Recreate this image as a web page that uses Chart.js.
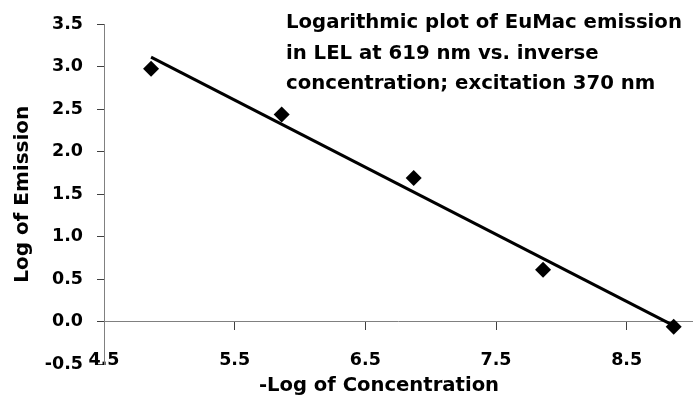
<!DOCTYPE html>
<html>
<head>
<meta charset="utf-8">
<script src="https://cdn.jsdelivr.net/npm/chart.js@4/dist/chart.umd.min.js"></script>
<style>
  html, body { margin: 0; padding: 0; background: #fff; overflow: hidden; }
  #wrap { position: relative; width: 700px; height: 399px; }
</style>
</head>
<body>
<div id="wrap"><canvas id="c" width="700" height="399"></canvas></div>
<script>
// Measured series: -log of concentration vs. log of emission
const negLogConc = [4.86, 5.86, 6.87, 7.86, 8.86];
const logEmission = [2.98, 2.44, 1.69, 0.61, -0.06];

// Axis tick values
const xTicks = [4.5, 5.5, 6.5, 7.5, 8.5];
const yTicks = [-0.5, 0, 0.5, 1, 1.5, 2, 2.5, 3, 3.5];

// Texts
const titleLines = [
  'Logarithmic plot of EuMac emission',
  'in LEL at 619 nm vs. inverse',
  'concentration; excitation 370 nm'
];
const xTitle = '-Log of Concentration';
const yTitle = 'Log of Emission';

const FONT = '"DejaVu Sans", Verdana, sans-serif';

// Least-squares linear trendline through the measured points
function linearFit(xs, ys) {
  const n = xs.length;
  const mx = xs.reduce((a, b) => a + b, 0) / n;
  const my = ys.reduce((a, b) => a + b, 0) / n;
  let sxy = 0, sxx = 0;
  for (let i = 0; i < n; i++) {
    sxy += (xs[i] - mx) * (ys[i] - my);
    sxx += (xs[i] - mx) * (xs[i] - mx);
  }
  const slope = sxy / sxx;
  return x => my + slope * (x - mx);
}
const fit = linearFit(negLogConc, logEmission);
const xLo = Math.min(...negLogConc), xHi = Math.max(...negLogConc);

const points = negLogConc.map((x, i) => ({ x, y: logEmission[i] }));
const trend = [{ x: xLo, y: fit(xLo) }, { x: xHi, y: fit(xHi) }];

// Free-floating chart title and the x-axis title
const textPlugin = {
  id: 'texts',
  afterDraw(chart) {
    const ctx = chart.ctx;
    ctx.save();
    ctx.fillStyle = '#000';
    ctx.font = 'bold 19.7px ' + FONT;
    ctx.textAlign = 'left';
    ctx.textBaseline = 'alphabetic';
    titleLines.forEach((t, i) => ctx.fillText(t, 286, 28 + i * 30.5));
    ctx.font = 'bold 19.6px ' + FONT;
    ctx.textAlign = 'center';
    ctx.fillText(xTitle, 379, 391);
    ctx.restore();
  }
};

new Chart(document.getElementById('c'), {
  type: 'scatter',
  data: {
    datasets: [
      {
        data: trend,
        showLine: true,
        borderColor: '#000',
        borderWidth: 3,
        pointRadius: 0,
        fill: false
      },
      {
        data: points,
        pointStyle: 'rectRot',
        pointRadius: 8,
        backgroundColor: '#000',
        borderColor: '#000',
        borderWidth: 0
      }
    ]
  },
  options: {
    responsive: false,
    animation: false,
    devicePixelRatio: 1,
    layout: { padding: { top: 20, right: 1, bottom: 35, left: 0 } },
    plugins: { legend: { display: false }, tooltip: { enabled: false } },
    scales: {
      x: {
        type: 'linear',
        position: { y: 0 },
        min: 4.5,
        max: 9.0,
        afterBuildTicks: s => { s.ticks = xTicks.map(v => ({ value: v })); },
        ticks: {
          autoSkip: false,
          maxRotation: 0,
          padding: 20,
          color: '#000',
          font: { family: FONT, size: 17.5, weight: 'bold' },
          callback: v => Number(v).toFixed(1)
        },
        grid: { drawOnChartArea: false, color: '#404040', tickLength: 8 },
        border: { color: '#808080', width: 1 }
      },
      y: {
        type: 'linear',
        position: 'left',
        min: -0.5,
        max: 3.5,
        afterBuildTicks: s => { s.ticks = yTicks.map(v => ({ value: v })); },
        afterFit: s => { s.width = 104; },
        ticks: {
          padding: 14,
          color: '#000',
          font: { family: FONT, size: 17.5, weight: 'bold' },
          callback: v => Number(v).toFixed(1)
        },
        grid: { drawOnChartArea: false, color: '#404040', tickLength: 7 },
        border: { color: '#808080', width: 1 },
        title: {
          display: true,
          text: yTitle,
          color: '#000',
          font: { family: FONT, size: 20, weight: 'bold' },
          padding: { top: 11, bottom: 0 }
        }
      }
    }
  },
  plugins: [textPlugin]
});
</script>
</body>
</html>
